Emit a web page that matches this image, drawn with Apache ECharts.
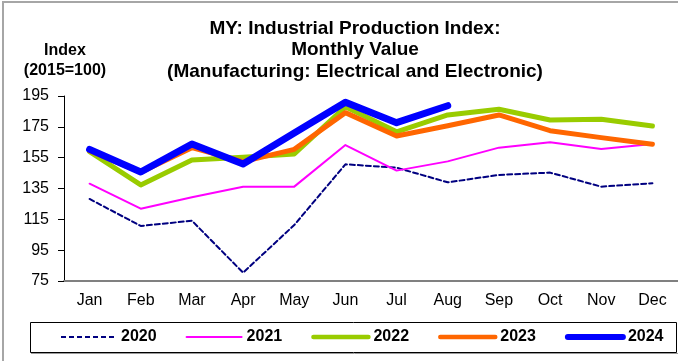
<!DOCTYPE html>
<html>
<head>
<meta charset="utf-8">
<script src="https://cdn.jsdelivr.net/npm/echarts@6/dist/echarts.min.js"></script>
<style>
  html, body { margin: 0; padding: 0; background: #fff; }
  #chart { width: 678px; height: 361px; }
</style>
</head>
<body>
<div id="chart"></div>
<script>
var months = ["Jan", "Feb", "Mar", "Apr", "May", "Jun", "Jul", "Aug", "Sep", "Oct", "Nov", "Dec"];
var years = ["2020", "2021", "2022", "2023", "2024"];

var yr2020 = [128.2, 110.7, 114.1, 80.4, 111.3, 150.7, 148.5, 139.0, 143.8, 145.3, 136.2, 138.4];
var yr2021 = [138.1, 121.9, 129.3, 136.2, 136.2, 163.2, 146.6, 152.6, 161.5, 165.0, 160.6, 163.9];
var yr2022 = [158.9, 137.3, 153.5, 155.2, 157.4, 188.0, 171.8, 182.7, 186.4, 179.4, 179.9, 175.5];
var yr2023 = [159.5, 145.5, 161.5, 152.4, 160.4, 184.2, 169.1, 175.7, 182.7, 172.5, 168.0, 163.7];
var yr2024 = [160.4, 145.7, 163.9, 150.9, 171.0, 191.0, 177.7, 188.7];

var yMin = 75, yMax = 195, yStep = 20;

var font = "'Liberation Sans', Arial, sans-serif";

// legend line thickness per year (the library default would be 2 for all)
var legendWidths = [2, 2, 4.5, 4.5, 6];

function line(name, data, color, width, dash) {
  return {
    name: name,
    type: "line",
    data: data,
    symbol: "none",
    animation: false,
    lineStyle: {
      color: color,
      width: width,
      type: dash || "solid",
      cap: "round",
      join: "round"
    },
    itemStyle: { color: color }
  };
}

var myChart = echarts.init(document.getElementById("chart"));

myChart.setOption({
  backgroundColor: "#fff",
  animation: false,
  title: [
    {
      text: "MY: Industrial Production Index:\nMonthly Value\n(Manufacturing: Electrical and Electronic)",
      left: 355,
      top: 18,
      textAlign: "center",
      padding: 0,
      textStyle: {
        fontFamily: font,
        fontSize: 19,
        fontWeight: "bold",
        color: "#000",
        lineHeight: 21.5
      }
    },
    {
      text: "Index\n(2015=100)",
      left: 65,
      top: 41,
      textAlign: "center",
      padding: 0,
      textStyle: {
        fontFamily: font,
        fontSize: 16,
        fontWeight: "bold",
        color: "#000",
        lineHeight: 20
      }
    }
  ],
  grid: {
    left: 64,
    right: 0,
    top: 96,
    bottom: 80,
    containLabel: false
  },
  legend: {
    data: years.map(function (y, i) {
      return { name: y, lineStyle: { width: legendWidths[i], cap: i === 0 ? "butt" : "round" } };
    }),
    left: 60,
    top: 329,
    padding: 0,
    itemWidth: 55,
    itemHeight: 16,
    itemGap: 29,
    itemStyle: { opacity: 0 },
    textStyle: {
      fontFamily: font,
      fontSize: 16,
      fontWeight: "bold",
      color: "#000"
    }
  },
  xAxis: {
    type: "category",
    data: months,
    boundaryGap: true,
    axisLine: { lineStyle: { color: "#808080", width: 2 } },
    axisTick: { length: 5, lineStyle: { color: "#808080", width: 1.5 } },
    axisLabel: {
      fontFamily: font,
      fontSize: 16,
      color: "#000",
      margin: 12
    },
    splitLine: { show: false }
  },
  yAxis: {
    type: "value",
    min: yMin,
    max: yMax,
    interval: yStep,
    axisLine: { show: true, lineStyle: { color: "#000", width: 1 } },
    axisTick: { show: true, length: 6, lineStyle: { color: "#000" } },
    axisLabel: {
      fontFamily: font,
      fontSize: 16,
      color: "#000",
      margin: 15
    },
    splitLine: { show: false }
  },
  graphic: [
    {
      type: "polyline",
      silent: true,
      shape: { points: [[3, 361], [3, 2], [678, 2]] },
      style: { stroke: "#a6a6a6", lineWidth: 2, fill: null }
    },
    {
      type: "rect",
      silent: true,
      z: -1,
      shape: { x: 30.5, y: 322.5, width: 646, height: 30 },
      style: { stroke: "#000", lineWidth: 1, fill: "#fff" }
    },
    {
      type: "line",
      silent: true,
      shape: { x1: 31, y1: 353.5, x2: 678, y2: 353.5 },
      style: { stroke: "#9a9a9a", lineWidth: 1 }
    }
  ],
  series: [
    line("2020", yr2020, "#000080", 2, [5, 3]),
    line("2021", yr2021, "#ff00ff", 2),
    line("2022", yr2022, "#99cc00", 5),
    line("2023", yr2023, "#ff6600", 5),
    line("2024", yr2024, "#0000ff", 7)
  ]
});

window.addEventListener("resize", function () {
  myChart.resize();
});
</script>
</body>
</html>
